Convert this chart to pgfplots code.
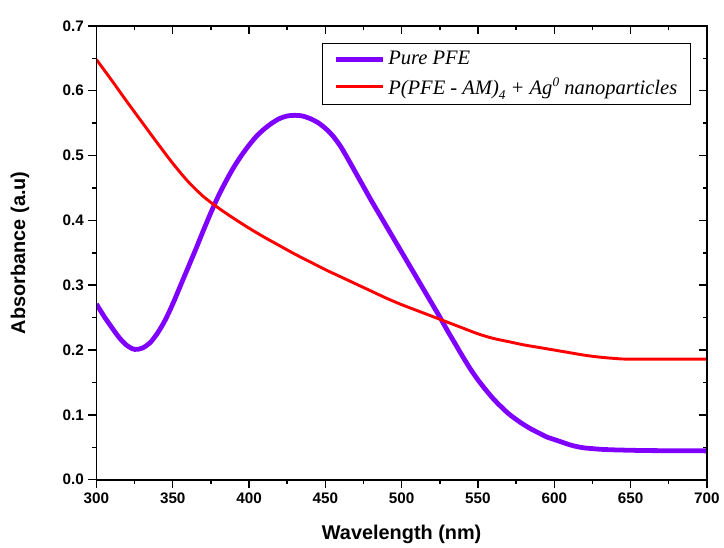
\documentclass[border=0pt]{standalone}
\usepackage{pgfplots}
\pgfplotsset{compat=1.18}
\usepackage{fontspec}
\setmainfont{Liberation Sans}
\newfontfamily\legfont{Liberation Serif}
\definecolor{pfepurple}{RGB}{127,0,255}
\definecolor{agred}{RGB}{255,0,0}
\begin{document}
\begin{tikzpicture}
\pgfplotsset{
  frame/.style={
    width=460.5pt, height=342.4pt, scale only axis,
    xmin=300, xmax=700, ymin=0, ymax=0.7,
    xtick={300,350,400,450,500,550,600,650,700},
    ytick={0,0.1,0.2,0.3,0.4,0.5,0.6,0.7},
    minor x tick num=1, minor y tick num=1,
    axis line style={line width=1.3pt},
    every tick/.style={black, line width=1.1pt},
    major tick length=6pt, minor tick length=3pt,
  }
}
% main axis: ticks outside on bottom/left, labels, data
\begin{axis}[frame,
    xtick pos=bottom, ytick pos=left, tick align=outside,
    /pgf/number format/assume math mode=true,
    ticklabel style={font=\bfseries\fontsize{11.5}{13}\selectfont},
    yticklabel style={/pgf/number format/.cd, fixed, fixed zerofill, precision=1},
    xticklabel style={/pgf/number format/1000 sep={}},
    xlabel={Wavelength (nm)},
    ylabel={Absorbance (a.u)},
    every axis x label/.style={at={(axis description cs:0.5,-0.12)}, anchor=center,
      font=\bfseries\fontsize{15}{17}\selectfont},
    every axis y label/.style={at={(axis description cs:-0.1254,0.5)}, anchor=center, rotate=90,
      font=\bfseries\fontsize{15}{17}\selectfont},
    legend style={at={(0.974,0.962)}, anchor=north east, draw=black, line width=0.7pt,
      font=\legfont\itshape\fontsize{15.5}{18}\selectfont, row sep=4pt,
      inner xsep=8pt, inner ysep=4pt, cells={anchor=west}},
    legend image code/.code={\draw[#1] (0pt,0pt) -- (36pt,0pt);},
  ]
\addplot[pfepurple, line width=3.6pt, smooth] coordinates {
(300,0.271) (305,0.252) (310,0.235) (315,0.219) (320,0.207) (325,0.201)
(330,0.203) (335,0.211) (340,0.226) (345,0.246) (350,0.271) (355,0.299)
(360,0.327) (365,0.355) (370,0.384) (375,0.412) (380,0.438) (385,0.461)
(390,0.482) (395,0.500) (400,0.516) (405,0.530) (410,0.541) (415,0.550)
(420,0.557) (425,0.561) (430,0.562) (435,0.561) (440,0.557) (445,0.551)
(450,0.542) (455,0.530) (460,0.514) (465,0.494) (470,0.473) (475,0.452)
(480,0.431) (485,0.411) (490,0.391) (495,0.371) (500,0.351) (505,0.331)
(510,0.311) (515,0.291) (520,0.271) (525,0.251) (530,0.230) (535,0.210)
(540,0.190) (545,0.171) (550,0.154) (555,0.139) (560,0.125) (565,0.113)
(570,0.102) (575,0.093) (580,0.085) (585,0.078) (590,0.072) (595,0.066)
(600,0.062) (605,0.058) (610,0.054) (615,0.051) (620,0.049) (625,0.048)
(630,0.047) (640,0.046) (660,0.045) (680,0.0448) (700,0.0445)
};
\addlegendentry{Pure PFE}
\addplot[agred, line width=2.2pt, smooth] coordinates {
(300,0.648) (310,0.616) (320,0.583) (330,0.551) (340,0.519) (350,0.488)
(360,0.460) (370,0.437) (380,0.419) (390,0.403) (400,0.388) (410,0.374)
(420,0.361) (430,0.348) (440,0.336) (450,0.324) (460,0.313) (470,0.302)
(480,0.291) (490,0.280) (500,0.270) (510,0.261) (520,0.252) (530,0.243)
(540,0.234) (550,0.225) (560,0.218) (570,0.213) (580,0.208) (590,0.204)
(600,0.200) (610,0.196) (620,0.192) (630,0.189) (640,0.187) (650,0.186)
(700,0.186)
};
\addlegendentry{P(PFE - AM)\raisebox{-4pt}{\fontsize{10}{10}\selectfont 4} + Ag\raisebox{6pt}{\fontsize{10}{10}\selectfont 0} nanoparticles}
\end{axis}
% mirror axis: ticks inside on top/right
\begin{axis}[frame,
    xtick pos=top, ytick pos=right, tick align=inside,
    xticklabels={}, yticklabels={},
  ]
\addplot[draw=none] coordinates {(300,0)};
\end{axis}
\path (-72.75pt,-50.25pt) rectangle (470.25pt,361.9pt);
\end{tikzpicture}
\end{document}
